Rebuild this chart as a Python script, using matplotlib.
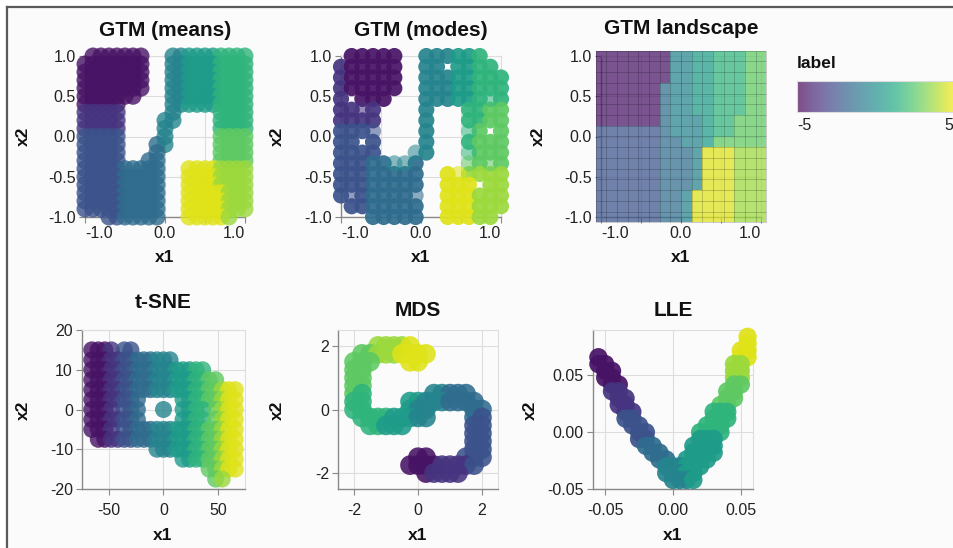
"""Six panel comparison of S-curve embeddings (GTM means / modes / landscape, t-SNE, MDS, LLE)
    redrawn with matplotlib."""

import numpy as np
import matplotlib
matplotlib.use('Agg')
import matplotlib.pyplot as plt
from matplotlib.colors import Normalize
from matplotlib.colorbar import Colorbar
from matplotlib.patches import Rectangle
from matplotlib.lines import Line2D

plt.rcParams['font.family'] = ['Liberation Sans', 'DejaVu Sans']
plt.rcParams['axes.unicode_minus'] = False

W, H = 954, 548

# Colour level of each grid character ('.' = nothing there, letters = single faint point)
LEVEL_VALUES = [-4.5, -3.5, -2.5, -1.5, -0.5, 0.5, 1.5, 2.5, 3.5, 4.5]
LIGHT_CHARS = 'abcdefghij'

# GTM (means): point cloud on a 0.1 grid
MEANS_XS = [-1.0, -0.9, -0.8, -0.7, -0.6, -0.5, -0.4, -0.3, -0.2, -0.1, 0.0,
            0.1, 0.2, 0.3, 0.4, 0.5, 0.6, 0.7, 0.8, 0.9, 1.0]
MEANS_YS = [1.0, 0.9, 0.8, 0.7, 0.6, 0.5, 0.4, 0.3, 0.2, 0.1, 0.0,
            -0.1, -0.2, -0.3, -0.4, -0.5, -0.6, -0.7, -0.8, -0.9, -1.0]
MEANS_ROWS = [
    ".0000000...4455556666",
    "00000000...4455556666",
    "00000000...4455556666",
    "00000000...4455556666",
    "00000000...4455556666",
    "0000000....4455556666",
    "00000......4455556666",
    "11111......4.....6666",
    "11111.....44.....6666",
    "11111.....4......6666",
    "22222.....4......7777",
    "22222....34......7777",
    "22222....3.......7777",
    "22222...33.......7777",
    "2222233333...99998888",
    "2222233333...99998888",
    "2222233333...99998888",
    "2222233333...99999888",
    "2222233333...99999888",
    "2222233333...99999888",
    "...2233333...999998..",
]

# GTM latent grid nodes (16 x 16)
NODES = [-1.0, -0.8667, -0.7333, -0.6, -0.4667, -0.3333, -0.2, -0.0667,
         0.0667, 0.2, 0.3333, 0.4667, 0.6, 0.7333, 0.8667, 1.0]
NODES_DOWN = [1.0, 0.8667, 0.7333, 0.6, 0.4667, 0.3333, 0.2, 0.0667,
              -0.0667, -0.2, -0.3333, -0.4667, -0.6, -0.7333, -0.8667, -1.0]

MODES_ROWS = [
    ".00000..444556..",
    "100000..44.5566.",
    "100000..44455666",
    "100000..44455666",
    "1.000...444556g6",
    "11b1....4...6677",
    "1111....4...6677",
    "222c....4...g7.7",
    "22.2....4...6777",
    "2222...e4...g777",
    "22233ee3....h7h7",
    "22233333..9j8888",
    "22233333..999.88",
    "2c23333d..999888",
    ".2233333..999888",
    "...33333..99988.",
]

LANDSCAPE_ROWS = [
    "0000000445566677",
    "0000000445566677",
    "0000000445566677",
    "0000003445566677",
    "0000003445566677",
    "0000003445566677",
    "0000003444566777",
    "2222223444566777",
    "2222223344577777",
    "2222223334999888",
    "2222223334999888",
    "2222223334999888",
    "2222223334999888",
    "2222223349999888",
    "2222223349999888",
    "2222223349999888",
]

TSNE_XS = [-66, -60, -54, -48, -42, -36, -30, -24, -18, -12, -6, 0,
           6, 12, 18, 24, 30, 36, 42, 48, 54, 60, 66]
TSNE_YS = [15, 12.5, 10, 7.5, 5, 2.5, 0, -2.5, -5, -7.5, -10, -12.5, -15, -17.5]
TSNE_ROWS = [
    "0001.22................",
    "0001122333444..........",
    "000112233344455566.....",
    "00011223334445556677...",
    "00011223334445556677899",
    "00011223......556677899",
    "0001.223...4..5566.7899",
    "00011223......5566.7899",
    "0001.223334445556677899",
    ".0011223334445556677899",
    "..........4445556677899",
    "..............556677899",
    "..................77899",
    "...................78..",
]

MDS_XS = [-2.25, -2.0, -1.75, -1.5, -1.25, -1.0, -0.75, -0.5, -0.25, 0.0,
          0.25, 0.5, 0.75, 1.0, 1.25, 1.5, 1.75, 2.0, 2.25]
MDS_YS = [2.25, 2.0, 1.75, 1.5, 1.25, 1.0, 0.75, 0.5, 0.25, 0.0,
          -0.25, -0.5, -0.75, -1.0, -1.25, -1.5, -1.75, -2.0, -2.25]
MDS_ROWS = [
    "...................",
    "....88889..........",
    "..778889999........",
    ".777....99.........",
    ".77................",
    ".77................",
    ".77................",
    ".76........44333...",
    ".66.....554443333..",
    ".66.....544.....33.",
    "..666655544.....32.",
    "...66555........22.",
    "................22.",
    "................22.",
    "................22.",
    ".........00....222.",
    "........000011112..",
    "..........01111....",
    "...................",
]

LLE_XS = [-0.055, -0.050, -0.045, -0.040, -0.035, -0.030, -0.025, -0.020, -0.015, -0.010,
          -0.005, 0.000, 0.005, 0.010, 0.015, 0.020, 0.025, 0.030, 0.035, 0.040,
          0.045, 0.050, 0.055]
LLE_YS = [0.084, 0.078, 0.072, 0.066, 0.060, 0.054, 0.048, 0.042, 0.036, 0.030, 0.024,
          0.018, 0.012, 0.006, 0.000, -0.006, -0.012, -0.018, -0.024, -0.030, -0.036, -0.042]
LLE_ROWS = [
    "......................9",
    "......................9",
    ".....................99",
    "0....................99",
    "00..................88.",
    ".00.................88.",
    ".00.................88.",
    "..00................77.",
    "..11...............77..",
    "...11..............77..",
    "...11.............77...",
    "....11...........666...",
    "....22...........666...",
    ".....22.........666....",
    "......22.......6666....",
    "......22.......555.....",
    ".......33.....5555.....",
    "........33....5555.....",
    ".........33..5555......",
    "..........444555.......",
    "..........44455........",
    "...........4445........",
]

NORM = Normalize(vmin=-5, vmax=5)
CMAP = 'viridis'


def px_rect(left, top, right, bottom):
    """Figure-fraction rectangle from pixel edges (y measured from the top)."""
    return [left / W, 1 - bottom / H, (right - left) / W, (bottom - top) / H]


def grid_points(rows, xs, ys):
    x, y, lab, light = [], [], [], []
    for r, row in enumerate(rows):
        assert len(row) == len(xs), (row, len(xs))
        for c, ch in enumerate(row):
            if ch == '.':
                continue
            x.append(xs[c])
            y.append(ys[r])
            if ch in LIGHT_CHARS:
                lab.append(LEVEL_VALUES[LIGHT_CHARS.index(ch)])
                light.append(True)
            else:
                lab.append(LEVEL_VALUES[int(ch)])
                light.append(False)
    return np.array(x), np.array(y), np.array(lab), np.array(light)


def style_axes(ax, xlim, ylim, xticks, xlabels, yticks, ylabels, flush=False, xpad=2.5):
    ax.set_xlim(*xlim)
    ax.set_ylim(*ylim)
    ax.set_facecolor('none')
    ax.set_xticks(xticks)
    ax.set_xticklabels(xlabels)
    ax.set_yticks(yticks)
    ax.set_yticklabels(ylabels)
    ax.grid(True, color='#dddddd', linewidth=0.8)
    ax.set_axisbelow(True)
    for side in ('top', 'right'):
        ax.spines[side].set_color('#dddddd')
        ax.spines[side].set_linewidth(0.8)
    for side in ('left', 'bottom'):
        ax.spines[side].set_color('#888888')
        ax.spines[side].set_linewidth(1.0)
    ax.tick_params(direction='out', length=4, width=0.8, color='#888888',
                   labelsize=11.5, labelcolor='#222222', pad=2.5)
    ax.tick_params(axis='x', pad=xpad)
    if flush:
        labs = ax.get_xticklabels()
        labs[0].set_horizontalalignment('left')
        labs[-1].set_horizontalalignment('right')


def ftext(fig, x, y, s, **kw):
    fig.text(x / W, 1 - y / H, s, **kw)


def main():
    fig = plt.figure(figsize=(W / 100, H / 100), dpi=100, facecolor='white')

    # screenshot frame
    fig.patches.append(Rectangle((8 / W, 0), 1, 1 - 8 / H, transform=fig.transFigure,
                                 facecolor='#fbfbfb', edgecolor='none', zorder=-10))
    fig.lines.append(Line2D([7 / W, 7 / W], [0, 1 - 7 / H], transform=fig.transFigure,
                            color='#5a5a5a', linewidth=1.6))
    fig.lines.append(Line2D([7 / W, 1], [1 - 7 / H, 1 - 7 / H], transform=fig.transFigure,
                            color='#5a5a5a', linewidth=1.6))

    gtm_ticks = [-1.0, -0.5, 0.0, 0.5, 1.0]
    gtm_xlab = ['-1.0', '', '0.0', '', '1.0']
    gtm_ylab = ['-1.0', '-0.5', '0.0', '0.5', '1.0']
    point_kw = dict(cmap=CMAP, norm=NORM, linewidths=0, clip_on=False, zorder=3)

    # --- GTM (means)
    ax1 = fig.add_axes(px_rect(85, 56, 245, 217))
    x, y, lab, _ = grid_points(MEANS_ROWS, MEANS_XS, MEANS_YS)
    ax1.scatter(x, y, c=lab, s=150, alpha=0.8, **point_kw)
    style_axes(ax1, (-1, 1), (-1, 1), gtm_ticks, gtm_xlab, gtm_ticks, gtm_ylab, flush=True)

    # --- GTM (modes)
    ax2 = fig.add_axes(px_rect(341, 56, 501, 217))
    x, y, lab, light = grid_points(MODES_ROWS, NODES, NODES_DOWN)
    ax2.scatter(x[~light], y[~light], c=lab[~light], s=135, alpha=0.92, **point_kw)
    ax2.scatter(x[light], y[light], c=lab[light], s=135, alpha=0.55, **point_kw)
    style_axes(ax2, (-1, 1), (-1, 1), gtm_ticks, gtm_xlab, gtm_ticks, gtm_ylab, flush=True)

    # --- GTM landscape: cells plus faint dark cell borders, over the view frame
    ax3 = fig.add_axes(px_rect(601, 56, 761, 217))
    z = np.array([[LEVEL_VALUES[int(ch)] for ch in row] for row in LANDSCAPE_ROWS])
    mesh = ax3.pcolormesh(NODES, NODES_DOWN, z, cmap=CMAP, norm=NORM, shading='nearest',
                          alpha=0.72, edgecolors='none', zorder=3)
    mesh.set_clip_on(False)
    nodes = np.array(NODES)
    half = np.diff(nodes).mean() / 2
    edges = np.concatenate([nodes - half, [nodes[-1] + half]])
    ax3.vlines(edges, edges[0], edges[-1], colors=(0, 0, 0, 0.22), linewidth=0.6,
               zorder=3.1, clip_on=False)
    ax3.hlines(edges, edges[0], edges[-1], colors=(0, 0, 0, 0.22), linewidth=0.6,
               zorder=3.1, clip_on=False)
    style_axes(ax3, (-1, 1), (-1, 1), gtm_ticks, gtm_xlab, gtm_ticks, gtm_ylab, flush=True)

    # --- t-SNE
    ax4 = fig.add_axes(px_rect(82, 330, 245, 489))
    x, y, lab, _ = grid_points(TSNE_ROWS, TSNE_XS, TSNE_YS)
    ax4.scatter(x, y, c=lab, s=150, alpha=0.8, **point_kw)
    style_axes(ax4, (-75, 75), (-20, 20), [-50, 0, 50], ['-50', '0', '50'],
               [-20, -10, 0, 10, 20], ['-20', '-10', '0', '10', '20'], xpad=6)

    # --- MDS
    ax5 = fig.add_axes(px_rect(338, 330, 498, 489))
    x, y, lab, _ = grid_points(MDS_ROWS, MDS_XS, MDS_YS)
    ax5.scatter(x, y, c=lab, s=200, alpha=0.88, **point_kw)
    style_axes(ax5, (-2.5, 2.5), (-2.5, 2.5), [-2, 0, 2], ['-2', '0', '2'],
               [-2, 0, 2], ['-2', '0', '2'], xpad=6)

    # --- LLE
    ax6 = fig.add_axes(px_rect(593, 330, 753, 489))
    x, y, lab, _ = grid_points(LLE_ROWS, LLE_XS, LLE_YS)
    ax6.scatter(x, y, c=lab, s=175, alpha=0.92, **point_kw)
    style_axes(ax6, (-0.059, 0.059), (-0.05, 0.09), [-0.05, 0.0, 0.05],
               ['-0.05', '0.00', '0.05'], [-0.05, 0.0, 0.05], ['-0.05', '0.00', '0.05'],
               xpad=6)

    # titles and axis titles
    title_kw = dict(fontsize=15, fontweight='bold', ha='center', va='center', color='#111111')
    axis_kw = dict(fontsize=12.5, fontweight='bold', ha='center', va='center', color='#111111')
    for tx, ty, s in [(165, 30, 'GTM (means)'), (421, 30, 'GTM (modes)'),
                      (681, 28, 'GTM landscape'), (163, 302, 't-SNE'),
                      (418, 311, 'MDS'), (673, 311, 'LLE')]:
        ftext(fig, tx, ty, s, **title_kw)
    for tx, ty in [(165, 257), (421, 257), (681, 257), (163, 535), (418, 535), (673, 535)]:
        ftext(fig, tx, ty, 'x1', **axis_kw)
    for tx, ty in [(23, 136), (277, 136), (538, 136), (23, 410), (277, 410), (530, 410)]:
        ftext(fig, tx, ty, 'x2', rotation=90, **axis_kw)

    # colour legend (bar runs past the right edge of the screenshot)
    cax = fig.add_axes(px_rect(797, 81, 957, 112))
    cb = Colorbar(cax, cmap=CMAP, norm=NORM, orientation='horizontal', alpha=0.7)
    cb.set_ticks([])
    cb.outline.set_edgecolor('#dddddd')
    cb.outline.set_linewidth(0.8)
    ftext(fig, 797, 64, 'label', fontsize=12.5, fontweight='bold', ha='left', va='center',
          color='#111111')
    ftext(fig, 797, 125, '-5', fontsize=11.5, ha='left', va='center', color='#222222')
    ftext(fig, 953, 125, '5', fontsize=11.5, ha='right', va='center', color='#222222')

    fig.savefig('out.png', dpi=100, facecolor=fig.get_facecolor())


if __name__ == '__main__':
    main()
